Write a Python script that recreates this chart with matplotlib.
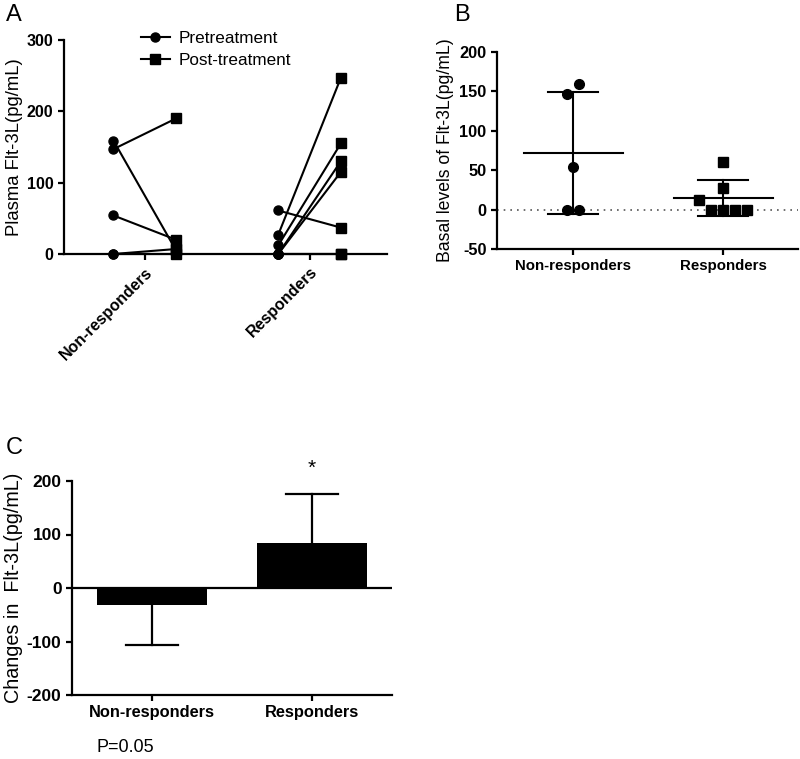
import numpy as np
import matplotlib
matplotlib.use("Agg")
import matplotlib.pyplot as plt
from matplotlib.lines import Line2D

plt.rcParams['font.family'] = ['Liberation Sans', 'DejaVu Sans']
plt.rcParams['axes.unicode_minus'] = False

# ---- data ----
groups = ["Non-responders", "Responders"]
nonresp_pre = [147, 159, 54, 0, 0]
nonresp_post = [190, 5, 20, 7, 0]
resp_pre = [61, 27, 12, 0, 0, 0, 0]
resp_post = [37, 247, 155, 130, 115, 0, 0]
change_means = [-32, 85]
change_err = [75, 91]
p_text = "P=0.05"

W, H = 800, 759
fig = plt.figure(figsize=(W / 100, H / 100), dpi=100)

def ax_rect(l, t, r, b):
    return [l / W, 1 - b / H, (r - l) / W, (b - t) / H]

def style(ax, yfs=11.5, xfs=11):
    for s in ['top', 'right']:
        ax.spines[s].set_visible(False)
    for s in ['left', 'bottom']:
        ax.spines[s].set_linewidth(1.6)
    ax.tick_params(direction='out', length=4, width=1.6)
    ax.tick_params(axis='y', labelsize=yfs)
    ax.tick_params(axis='x', labelsize=xfs)
    for lab in ax.get_yticklabels() + ax.get_xticklabels():
        lab.set_fontweight('bold')

# ---- Panel A ----
axA = fig.add_axes(ax_rect(64, 40, 387, 254))
off = 0.19
for i, (pre, post) in enumerate([(nonresp_pre, nonresp_post), (resp_pre, resp_post)]):
    xc = i + 1
    for a, b in zip(pre, post):
        axA.plot([xc - off, xc + off], [a, b], color='black', lw=1.5, zorder=2, clip_on=False)
    axA.plot([xc - off] * len(pre), pre, 'o', color='black', ms=6.5, zorder=3, clip_on=False)
    axA.plot([xc + off] * len(post), post, 's', color='black', ms=7, zorder=3, clip_on=False)
axA.set_xlim(0.51, 2.47)
axA.set_ylim(0, 300)
axA.set_yticks([0, 100, 200, 300])
axA.set_xticks([1, 2])
axA.set_xticklabels(groups, rotation=45, ha='right', rotation_mode='anchor')
axA.set_ylabel("Plasma Flt-3L(pg/mL)", fontsize=13.3, labelpad=3)
style(axA, yfs=11.5, xfs=11.5)
hA = [Line2D([0], [0], color='black', lw=1.5, marker='o', ms=6.5),
      Line2D([0], [0], color='black', lw=1.5, marker='s', ms=7)]
axA.legend(hA, ['Pretreatment', 'Post-treatment'], loc='upper left', bbox_to_anchor=(0.19, 1.115),
           frameon=False, fontsize=12.3, handlelength=1.7, handletextpad=0.5, labelspacing=0.45)

# ---- Panel B ----
axB = fig.add_axes(ax_rect(497, 52, 798, 249))
xlimB = (0.493, 2.5)
ylimB = (-50, 200)
axB.set_xlim(*xlimB)
axB.set_ylim(*ylimB)
px_per_x = (798 - 497) / (xlimB[1] - xlimB[0])
px_per_y = (249 - 52) / (ylimB[1] - ylimB[0])
d = 12 / px_per_x
thr = 11 / px_per_y

def swarm_offsets(vals):
    vals = list(vals)
    order = sorted(range(len(vals)), key=lambda k: vals[k])
    clusters = [[order[0]]]
    for k in order[1:]:
        if vals[k] - vals[clusters[-1][-1]] < thr:
            clusters[-1].append(k)
        else:
            clusters.append([k])
    offs = [0.0] * len(vals)
    for c in clusters:
        c = sorted(c)
        n = len(c)
        for j, k in enumerate(c):
            offs[k] = (j - (n - 1) / 2) * d
    return offs

for i, (vals, mk) in enumerate([(nonresp_pre, 'o'), (resp_pre, 's')]):
    xc = i + 1
    v = np.array(vals, dtype=float)
    m = v.mean()
    sd = v.std(ddof=1)
    offs = swarm_offsets(vals)
    axB.plot(xc + np.array(offs), v, mk, color='black', ms=7, zorder=3, clip_on=False)
    axB.plot([xc - 0.33, xc + 0.33], [m, m], color='black', lw=1.5, zorder=2)
    axB.plot([xc, xc], [m - sd, m + sd], color='black', lw=1.5, zorder=2)
    for yy in (m - sd, m + sd):
        axB.plot([xc - 0.167, xc + 0.167], [yy, yy], color='black', lw=1.5, zorder=2)
axB.axhline(0, color='#555555', lw=1.2, ls=(0, (1, 3)), zorder=1)
axB.set_yticks([-50, 0, 50, 100, 150, 200])
axB.set_xticks([1, 2])
axB.set_xticklabels(groups)
axB.set_ylabel("Basal levels of Flt-3L(pg/mL)", fontsize=12.7, labelpad=4)
style(axB, yfs=11.8, xfs=10.8)

# ---- Panel C ----
axC = fig.add_axes(ax_rect(72, 481, 392, 695))
xs = [1, 2]
axC.bar(xs, change_means, width=0.69, color='black', zorder=2)
for x, m, e in zip(xs, change_means, change_err):
    end = m - e if m < 0 else m + e
    axC.plot([x, x], [m, end], color='black', lw=1.6, zorder=1)
    axC.plot([x - 0.165, x + 0.165], [end, end], color='black', lw=1.6, zorder=1)
axC.axhline(0, color='black', lw=1.6, zorder=3)
axC.set_xlim(0.5, 2.5)
axC.set_ylim(-200, 200)
axC.set_yticks([-200, -100, 0, 100, 200])
axC.set_xticks(xs)
axC.set_xticklabels(groups)
axC.set_ylabel("Changes in  Flt-3L(pg/mL)", fontsize=14.2, labelpad=3)
style(axC, yfs=12.5, xfs=11.8)
axC.text(2, change_means[1] + change_err[1] + 48, "*", ha='center', va='center', fontsize=15)
fig.text(97 / W, 1 - 748 / H, p_text, fontsize=13, ha='left', va='center')

# panel letters
fig.text(6 / W, 1 - 15 / H, "A", fontsize=17, ha='left', va='center')
fig.text(454 / W, 1 - 15 / H, "B", fontsize=17, ha='left', va='center')
fig.text(6 / W, 1 - 448 / H, "C", fontsize=17, ha='left', va='center')

fig.savefig("out.png", dpi=100)
